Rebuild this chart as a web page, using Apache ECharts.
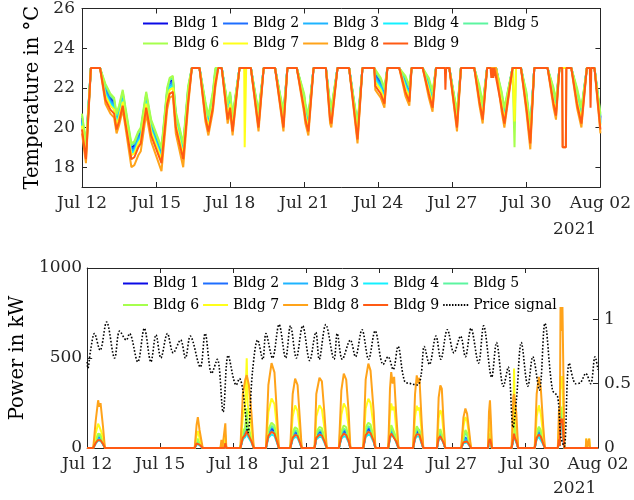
<!DOCTYPE html>
<html><head><meta charset="utf-8">
<script src="https://cdn.jsdelivr.net/npm/echarts@6/dist/echarts.min.js"></script>
<style>html,body{margin:0;padding:0;background:#fff}#c{width:634px;height:500px}</style>
</head><body><div id="c"></div><script>
const tickLabels = ['Jul 12','Jul 15','Jul 18','Jul 21','Jul 24','Jul 27','Jul 30','Aug 02'];
const yearLabel = '2021';
const buildings = ['Bldg 1','Bldg 2','Bldg 3','Bldg 4','Bldg 5','Bldg 6','Bldg 7','Bldg 8','Bldg 9'];
const priceName = 'Price signal';
const colors = ['#0a0ae6','#1e6eff','#1eb4ff','#14f0ff','#5cf5a0','#a6ff4d','#ffff1a','#ffa31a','#ff5a14'];

// days since Jul 12 00:00
const tempDays = [
0.00,0.16,0.36,0.73,0.95,1.15,1.30,1.40,1.50,1.65,
1.75,2.00,2.12,2.28,2.38,2.60,2.80,3.22,3.45,3.55,
3.68,3.80,4.10,4.30,4.45,4.76,5.00,5.12,5.30,5.40,
5.52,5.66,5.90,6.00,6.10,6.38,6.57,6.59,6.63,6.65,
6.84,7.15,7.36,7.82,8.16,8.32,8.70,9.00,9.05,9.17,
9.38,9.88,10.05,10.10,10.35,10.82,11.16,11.36,11.84,11.88,
12.10,12.25,12.37,12.85,13.10,13.26,13.35,13.80,14.05,14.20,
14.34,14.70,14.72,14.75,14.88,15.19,15.35,15.89,16.10,16.23,
16.41,16.55,16.58,16.62,16.66,16.70,16.77,17.00,17.11,17.44,
17.50,17.52,17.56,17.58,17.78,18.00,18.16,18.32,18.86,19.10,
19.20,19.34,19.45,19.47,19.60,19.62,19.82,20.05,20.23,20.45,
20.57,20.60,20.63,20.76,21.00];

const tempBldg1 = [
20.5,19.0,23,23,22.0,21.5,21.3,20.5,20.9,21.7,
20.9,19.0,19.1,19.6,19.8,21.6,20.2,18.8,21.8,22.3,
22.4,20.6,19.0,21.9,23,23,21.1,20.4,21.6,22.8,
23,23,21.0,21.6,20.4,23,23,23,23,23,
23,20.6,23,23,20.6,23,23,21.5,21.0,20.4,
23,23,21.0,20.8,23,23,20.0,23,23,22.7,
22.3,21.8,23,23,22.4,21.9,23,23,22.3,21.6,
23,23,23,23,23,20.6,23,23,21.9,21.0,
23,23,23,23,23,23,23,21.6,20.8,23,
23,23,23,23,23,21.6,19.8,23,23,21.8,
21.2,23,23,23,23,23,23,21.8,20.8,23,
23,23,23,23,20.5];
const tempBldg2 = [
20.4,18.9,23,23,21.9,21.4,21.2,20.4,20.8,21.6,
20.8,18.9,19.0,19.5,19.7,21.5,20.1,18.7,21.7,22.2,
22.3,20.5,18.9,21.8,23,23,21.0,20.3,21.5,22.7,
23,23,20.9,21.5,20.3,23,23,23,23,23,
23,20.5,23,23,20.5,23,23,21.4,20.9,20.3,
23,23,20.9,20.7,23,23,19.9,23,23,22.6,
22.2,21.7,23,23,22.3,21.8,23,23,22.2,21.5,
23,23,23,23,23,20.5,23,23,21.8,20.9,
23,23,23,23,23,23,23,21.5,20.7,23,
23,23,23,23,23,21.5,19.7,23,23,21.7,
21.1,23,23,23,23,23,23,21.7,20.7,23,
23,23,23,23,20.4];
const tempBldg3 = [
20.3,18.8,23,23,21.8,21.3,21.1,20.3,20.7,21.5,
20.7,18.8,18.9,19.4,19.6,21.4,20.0,18.6,21.6,22.1,
22.2,20.4,18.8,21.7,23,23,20.9,20.2,21.4,22.6,
23,23,20.8,21.4,20.2,23,23,23,23,23,
23,20.4,23,23,20.4,23,23,21.3,20.8,20.2,
23,23,20.8,20.6,23,23,19.8,23,23,22.5,
22.1,21.6,23,23,22.2,21.7,23,23,22.1,21.4,
23,23,23,23,23,20.4,23,23,21.7,20.8,
23,23,23,23,23,23,23,21.4,20.6,23,
23,23,23,23,23,21.4,19.6,23,23,21.6,
21.0,23,23,23,23,23,23,21.6,20.6,23,
23,23,23,23,20.3];
const tempBldg4 = [
20.2,18.7,23,23,21.7,21.2,21.0,20.2,20.6,21.4,
20.6,18.7,18.8,19.3,19.5,21.3,19.9,18.5,21.5,22.0,
22.1,20.3,18.7,21.6,23,23,20.8,20.1,21.3,22.5,
23,23,20.7,21.3,20.1,23,23,23,23,23,
23,20.3,23,23,20.3,23,23,21.2,20.7,20.1,
23,23,20.7,20.5,23,23,19.7,23,23,22.4,
22.0,21.5,23,23,22.1,21.6,23,23,22.0,21.3,
23,23,23,23,23,20.3,23,23,21.6,20.7,
23,23,23,23,23,23,23,21.3,20.5,23,
23,23,23,23,23,21.3,19.5,23,23,21.5,
20.9,23,23,23,23,23,23,21.5,20.5,23,
23,23,23,23,20.2];
const tempBldg5 = [
20.6,19.1,23,23,22.1,21.6,21.4,20.6,21.0,21.8,
21.0,19.1,19.2,19.7,19.9,21.7,20.3,18.9,21.9,22.4,
22.5,20.7,19.1,22.0,23,23,21.2,20.5,21.7,22.9,
23,23,21.1,21.7,20.5,23,23,23,23,23,
23,20.7,23,23,20.7,23,23,21.6,21.1,20.5,
23,23,21.1,20.9,23,23,20.1,23,23,22.8,
22.4,21.9,23,23,22.5,22.0,23,23,22.4,21.7,
23,23,23,23,23,20.7,23,23,22.0,21.1,
23,23,23,23,23,23,23,21.7,20.9,23,
23,23,23,23,23,21.7,19.9,23,23,21.9,
21.3,23,23,23,23,23,23,21.9,20.9,23,
23,23,23,23,20.6];
const tempBldg6 = [
20.7,19.2,23,23,22.2,21.7,21.5,20.7,21.1,21.9,
21.1,19.2,19.3,19.8,20.0,21.8,20.4,19.0,22.0,22.5,
22.6,20.8,19.2,22.1,23,23,21.3,20.6,21.8,23,
23,23,21.2,21.8,20.6,23,23,23,23,23,
23,20.8,23,23,20.8,23,23,21.7,21.2,20.6,
23,23,21.2,21.0,23,23,20.2,23,23,22.9,
22.5,22.0,23,23,22.6,22.1,23,23,22.5,21.8,
23,23,23,23,23,20.8,23,23,22.1,21.2,
23,23,23,23,23,23,23,21.8,21.0,23,
23,19.0,19.0,23,23,21.8,20.0,23,23,22.0,
21.4,23,23,23,23,23,23,22.0,21.0,23,
23,23,23,23,20.7];
const tempBldg7 = [
20.1,18.6,23,23,21.6,21.1,20.9,20.1,20.5,21.3,
20.5,18.6,18.7,19.2,19.4,21.2,19.8,18.4,21.4,21.9,
22.0,20.2,18.6,21.5,23,23,20.7,20.0,21.2,22.4,
23,23,20.6,21.2,20.0,23,23,19.0,19.0,23,
23,20.2,23,23,20.2,23,23,21.1,20.6,20.0,
23,23,20.6,20.4,23,23,19.6,23,23,22.3,
21.9,21.4,23,23,22.0,21.5,23,23,21.9,21.2,
23,23,23,23,23,20.2,23,23,21.5,20.6,
23,23,23,23,23,23,23,21.2,20.4,23,
23,20.3,20.3,23,23,21.2,19.4,23,23,21.4,
20.8,23,23,23,23,23,23,21.4,20.4,23,
23,23,23,23,20.1];
const tempBldg8 = [
19.7,18.2,23,23,21.2,20.7,20.5,19.7,20.1,20.9,
20.1,18.0,18.1,18.6,18.8,20.7,19.3,17.8,20.9,21.5,
21.6,19.7,18.0,21.1,23,23,20.3,19.6,20.8,22.0,
23,23,20.2,20.8,19.6,23,23,23,23,23,
23,19.8,23,23,19.8,23,23,20.7,20.2,19.6,
23,23,20.2,20.0,23,23,19.2,23,23,21.9,
21.5,21.0,23,23,21.6,21.1,23,23,21.5,20.8,
23,23,23,23,23,19.8,23,23,21.1,20.2,
23,23,23,23,23,23,23,20.8,20.0,23,
23,23,23,23,23,20.8,18.9,23,23,21.0,
20.4,23,23,19.0,19.0,23,23,21.0,20.0,23,
23,23,23,23,19.7];
const tempBldg9 = [
19.9,18.4,23,23,21.4,20.9,20.7,19.9,20.3,21.1,
20.3,18.4,18.5,19.0,19.2,21.0,19.6,18.2,21.2,21.7,
21.8,20.0,18.4,21.3,23,23,20.5,19.8,21.0,22.2,
23,23,20.4,21.0,19.8,23,23,23,23,23,
23,20.0,23,23,20.0,23,23,20.9,20.4,19.8,
23,23,20.4,20.2,23,23,19.4,23,23,22.1,
21.7,21.2,23,23,21.8,21.3,23,23,21.7,21.0,
23,23,21.9,23,23,20.0,23,23,21.3,20.4,
23,23,22.5,23,22.5,23,23,21.0,20.2,23,
23,23,23,23,23,21.0,19.2,23,23,21.2,
20.6,23,23,19.0,19.0,23,23,21.2,20.2,23,
23,21.0,23,23,19.9];

const powerDays = [0,
0.25,0.35,0.45,0.50,0.55,0.65,0.73,
4.42,4.50,4.55,4.62,4.68,4.75,
5.48,5.52,5.56,5.64,5.68,5.72,
6.30,6.40,6.50,6.56,6.60,6.65,6.75,6.85,
7.35,7.45,7.58,7.70,7.82,7.88,
8.35,8.45,8.55,8.65,8.75,8.82,
9.35,9.42,9.55,9.65,9.75,9.85,
10.35,10.45,10.55,10.65,10.75,10.82,
11.35,11.45,11.56,11.65,11.78,11.85,
12.38,12.45,12.50,12.56,12.62,12.70,12.80,
13.40,13.48,13.55,13.60,13.66,13.75,13.82,
14.38,14.45,14.52,14.58,14.65,14.72,
15.38,15.47,15.55,15.62,15.70,15.78,
16.48,16.52,16.56,16.60,16.64,
17.45,17.52,17.55,17.58,17.64,17.72,
18.40,18.48,18.57,18.65,18.75,18.82,
19.35,19.40,19.43,19.46,19.50,19.54,19.58,19.62,
20.50,20.52,20.55,20.62,20.64,20.67,
21];

const powerBldg1 = [0,
0,33,58,51,55,26,0,
0,29,38,22,21,0,
0,10,0,0,30,0,
0,66,84,145,91,77,44,0,
0,77,104,92,33,0,
0,66,85,77,33,0,
0,66,86,81,44,0,
0,70,91,84,44,0,
0,84,103,95,44,0,
0,73,93,79,87,44,0,
0,66,89,79,86,33,0,
0,62,77,73,33,0,
0,37,55,46,22,0,
0,44,58,33,0,
0,62,140,68,44,0,
0,66,87,73,26,0,
0,55,13,172,150,172,66,0,
0,5,0,0,5,0,
0];
const powerBldg2 = [0,
0,36,64,55,60,29,0,
0,31,41,24,23,0,
0,11,0,0,33,0,
0,72,91,160,100,84,48,0,
0,84,113,101,36,0,
0,72,92,84,36,0,
0,72,94,89,48,0,
0,77,99,91,48,0,
0,91,113,103,48,0,
0,79,101,86,95,48,0,
0,72,97,86,94,36,0,
0,67,84,79,36,0,
0,41,60,50,24,0,
0,48,64,36,0,
0,67,150,75,48,0,
0,72,95,79,29,0,
0,60,15,185,160,185,72,0,
0,6,0,0,6,0,
0];
const powerBldg3 = [0,
0,30,53,46,50,24,0,
0,26,34,20,19,0,
0,9,0,0,27,0,
0,60,76,130,83,70,40,0,
0,70,94,84,30,0,
0,60,77,70,30,0,
0,60,78,74,40,0,
0,64,83,76,40,0,
0,76,94,86,40,0,
0,66,84,72,79,40,0,
0,60,81,72,78,30,0,
0,56,70,66,30,0,
0,34,50,42,20,0,
0,40,53,30,0,
0,56,125,62,40,0,
0,60,79,66,24,0,
0,50,12,157,140,157,60,0,
0,5,0,0,5,0,
0];
const powerBldg4 = [0,
0,24,42,37,40,19,0,
0,21,28,16,15,0,
0,7,0,0,22,0,
0,48,61,100,66,56,32,0,
0,56,76,67,24,0,
0,48,62,56,24,0,
0,48,62,59,32,0,
0,51,66,61,32,0,
0,61,75,69,32,0,
0,53,68,57,63,32,0,
0,48,65,58,62,24,0,
0,45,56,53,24,0,
0,27,35,30,16,0,
0,32,42,24,0,
0,45,100,50,32,0,
0,48,63,53,19,0,
0,40,10,125,110,125,48,0,
0,4,0,0,4,0,
0];
const powerBldg5 = [0,
0,40,70,60,65,30,0,
0,34,45,26,25,0,
0,12,0,0,35,0,
0,78,100,180,108,91,52,0,
0,91,123,109,39,0,
0,78,100,91,39,0,
0,78,101,96,52,0,
0,83,107,99,52,0,
0,99,122,112,52,0,
0,86,110,93,103,52,0,
0,78,105,94,101,39,0,
0,73,90,86,39,0,
0,50,85,72,34,0,
0,52,69,39,0,
0,73,170,81,52,0,
0,78,103,86,31,0,
0,65,16,200,170,200,78,0,
0,8,0,0,8,0,
0];
const powerBldg6 = [0,
0,45,80,70,75,35,0,
0,40,52,30,28,0,
0,14,0,0,40,0,
0,90,115,220,125,105,60,0,
0,105,140,125,45,0,
0,90,115,105,45,0,
0,90,117,110,60,0,
0,95,125,115,60,0,
0,115,140,130,60,0,
0,100,127,107,118,60,0,
0,90,121,108,117,45,0,
0,85,105,100,45,0,
0,60,100,85,40,0,
0,60,80,45,0,
0,85,200,95,60,0,
0,90,118,100,36,0,
0,75,20,230,200,230,90,0,
0,10,0,0,10,0,
0];
const powerBldg7 = [0,
0,80,135,120,130,65,0,
0,70,95,55,50,0,
0,25,0,0,75,0,
0,170,250,498,240,200,110,0,
0,200,275,245,90,0,
0,175,237,205,90,0,
0,175,237,215,115,0,
0,185,247,220,115,0,
0,220,274,250,115,0,
0,190,248,210,230,115,0,
0,175,235,210,225,90,0,
0,165,210,190,90,0,
0,120,172,150,70,0,
0,115,155,90,0,
0,160,441,180,115,0,
0,175,237,190,70,0,
0,130,35,400,330,400,180,0,
0,52,0,0,52,0,
0];
const powerBldg8 = [0,
0,150,265,230,250,120,0,
0,130,172,100,95,0,
0,45,0,0,137,0,
0,300,380,405,415,350,200,0,
0,350,472,420,150,0,
0,300,385,350,150,0,
0,300,390,370,200,0,
0,320,413,380,200,0,
0,380,469,430,200,0,
0,330,422,358,395,200,0,
0,300,404,360,390,150,0,
0,280,348,330,150,0,
0,170,219,190,100,0,
0,200,265,150,0,
0,280,300,311,200,0,
0,300,395,330,120,0,
0,220,60,783,650,783,400,0,
0,52,0,0,52,0,
0];
const powerBldg9 = [0,
0,28,45,40,43,23,0,
0,25,33,19,18,0,
0,9,0,0,26,0,
0,57,72,95,79,67,38,0,
0,67,89,80,29,0,
0,57,73,67,29,0,
0,57,74,70,38,0,
0,61,80,72,38,0,
0,72,89,82,38,0,
0,63,80,68,75,38,0,
0,57,77,68,74,29,0,
0,53,66,63,29,0,
0,32,42,36,19,0,
0,38,50,29,0,
0,53,80,59,38,0,
0,57,75,63,23,0,
0,48,11,163,140,163,57,0,
0,5,0,0,5,0,
0];

const priceDays = [
0.00,0.03,0.14,0.30,0.53,0.80,1.13,1.34,1.61,1.74,
2.08,2.35,2.62,2.83,3.03,3.30,3.54,3.84,4.04,4.24,
4.65,4.85,5.12,5.35,5.59,5.80,6.13,6.26,6.40,6.61,
6.80,7.01,7.22,7.35,7.62,7.89,8.16,8.36,8.60,8.86,
9.15,9.40,9.54,9.81,10.15,10.28,10.49,10.82,11.03,11.30,
11.57,11.84,12.17,12.37,12.58,12.78,13.05,13.32,13.59,13.73,
13.86,14.07,14.34,14.54,14.81,15.08,15.35,15.55,15.78,16.09,
16.30,16.63,16.83,17.11,17.31,17.51,17.65,17.85,18.12,18.32,
18.59,18.82,19.13,19.34,19.47,19.61,19.82,20.09,20.29,20.50,
20.70,20.88,21.00];
const priceSignal = [
0.67,0.62,0.76,0.89,0.76,0.98,0.70,0.91,0.84,0.89,
0.67,0.93,0.67,0.88,0.70,0.89,0.74,0.84,0.70,0.87,
0.63,0.89,0.58,0.69,0.28,0.72,0.49,0.54,0.45,0.12,
0.60,0.84,0.69,0.89,0.70,0.96,0.70,0.95,0.70,0.95,
0.68,0.90,0.69,0.96,0.69,0.89,0.69,0.84,0.71,0.92,
0.69,0.91,0.65,0.71,0.61,0.79,0.52,0.50,0.49,0.57,
0.79,0.65,0.87,0.69,0.92,0.74,0.87,0.71,0.93,0.66,
0.95,0.55,0.82,0.48,0.63,0.16,0.38,0.82,0.48,0.71,
0.45,0.97,0.45,0.40,0.09,0.01,0.66,0.50,0.51,0.58,
0.50,0.71,0.61];

const tempValues = [tempBldg1,tempBldg2,tempBldg3,tempBldg4,tempBldg5,tempBldg6,tempBldg7,tempBldg8,tempBldg9];
const powerValues = [powerBldg1,powerBldg2,powerBldg3,powerBldg4,powerBldg5,powerBldg6,powerBldg7,powerBldg8,powerBldg9];

const FONT = 'DejaVu Serif';
const INK = '#262626';
const zip = (xs, ys) => xs.map((x, i) => [x, ys[i]]);

function xAx(grid, pos, labels) {
  return {
    type: 'value', gridIndex: grid, position: pos, min: 0, max: 21, interval: 3,
    axisLine: { show: true, onZero: false, lineStyle: { color: INK, width: 1 } },
    axisTick: { show: true, inside: true, length: 5, lineStyle: { color: INK } },
    axisLabel: { show: labels, margin: 8, color: INK, fontFamily: FONT, fontSize: 17,
      formatter: v => tickLabels[Math.round(v / 3)] },
    splitLine: { show: false }
  };
}
function yAx(grid, pos, o) {
  return Object.assign({
    type: 'value', gridIndex: grid, position: pos,
    axisLine: { show: true, onZero: false, lineStyle: { color: INK, width: 1 } },
    splitLine: { show: false }
  }, o);
}

const tickStyle = { show: true, inside: true, length: 5, lineStyle: { color: INK } };
const labelStyle = { color: INK, fontFamily: FONT, fontSize: 17, formatter: v => String(v) };

const series = [];
buildings.forEach((b, i) => {
  series.push({ name: b, type: 'line', xAxisIndex: 0, yAxisIndex: 0, data: zip(tempDays, tempValues[i]),
    symbol: 'none', color: colors[i], lineStyle: { width: 2, color: colors[i] }, animation: false });
});
buildings.forEach((b, i) => {
  series.push({ name: b, type: 'line', xAxisIndex: 2, yAxisIndex: 2, data: zip(powerDays, powerValues[i]),
    symbol: 'none', color: colors[i], lineStyle: { width: 2, color: colors[i] }, animation: false });
});
series.push({ name: priceName, type: 'line', xAxisIndex: 2, yAxisIndex: 3, data: zip(priceDays, priceSignal),
  symbol: 'none', smooth: 0.35, color: '#000', lineStyle: { width: 1.6, color: '#000', type: [1.6, 1.8] }, animation: false });

const dotIcon = 'path://M0,0h1.5v2h-1.5z M3,0h1.5v2h-1.5z M6,0h1.5v2h-1.5z M9,0h1.5v2h-1.5z M12,0h1.5v2h-1.5z M15,0h1.5v2h-1.5z M18,0h1.5v2h-1.5z M21,0h1.5v2h-1.5z M24,0h1.5v2h-1.5z';

const legendBase = {
  orient: 'horizontal', padding: 0, itemGap: 4, itemWidth: 25, itemHeight: 2,
  icon: 'rect', selectedMode: false,
  textStyle: { fontFamily: FONT, fontSize: 14, color: '#000', width: 47 }
};

const option = {
  backgroundColor: '#fff',
  animation: false,
  grid: [
    { left: 82, top: 7, width: 518.5, height: 180 },
    { left: 82, top: 268, width: 518.5, height: 180 }
  ],
  xAxis: [ xAx(0, 'bottom', true), xAx(0, 'top', false), xAx(1, 'bottom', true), xAx(1, 'top', false) ],
  yAxis: [
    yAx(0, 'left', { min: 17, max: 26, interval: 1,
      name: 'Temperature in °C', nameLocation: 'middle', nameGap: 29,
      nameTextStyle: { color: '#000', fontFamily: FONT, fontSize: 19.5 },
      axisTick: Object.assign({ customValues: [18,20,22,24,26] }, tickStyle),
      axisLabel: Object.assign({ customValues: [18,20,22,24,26], margin: 7 }, labelStyle) }),
    yAx(0, 'right', { min: 17, max: 26, interval: 1,
      axisTick: Object.assign({ customValues: [18,20,22,24,26] }, tickStyle),
      axisLabel: { show: false } }),
    yAx(1, 'left', { min: 0, max: 1000, interval: 500,
      name: 'Power in kW', nameLocation: 'middle', nameGap: 50.5,
      nameTextStyle: { color: '#000', fontFamily: FONT, fontSize: 19.5 },
      axisTick: tickStyle, axisLabel: Object.assign({ margin: 5 }, labelStyle) }),
    yAx(1, 'right', { min: 0, max: 1.4, interval: 0.5,
      axisTick: Object.assign({ customValues: [0, 0.5, 1] }, tickStyle),
      axisLabel: Object.assign({ customValues: [0, 0.5, 1], margin: 6 }, labelStyle) })
  ],
  legend: [
    Object.assign({ data: buildings.slice(0, 5), left: 143, top: 16.5 }, legendBase),
    Object.assign({ data: buildings.slice(5), left: 143, top: 36.5 }, legendBase),
    Object.assign({ data: buildings.slice(0, 5), left: 123, top: 276.5 }, legendBase),
    Object.assign({ data: buildings.slice(5).concat([{ name: priceName, icon: dotIcon, textStyle: { width: 90 } }]), left: 123, top: 298 }, legendBase)
  ],
  graphic: [
    { type: 'text', left: 553, top: 221, style: { text: yearLabel, font: '17px "DejaVu Serif"', fill: INK } },
    { type: 'text', left: 553, top: 480, style: { text: yearLabel, font: '17px "DejaVu Serif"', fill: INK } }
  ],
  series: series
};

const chart = echarts.init(document.getElementById('c'), null, { renderer: 'canvas' });
chart.setOption(option);
</script></body></html>
